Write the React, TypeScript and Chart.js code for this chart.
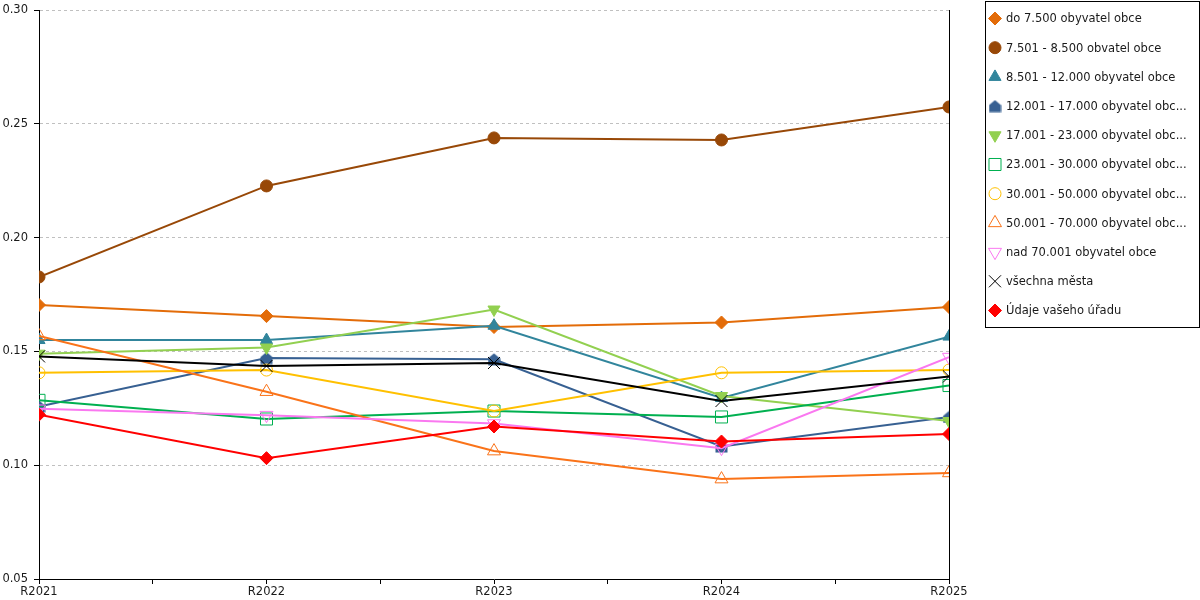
import { Chart, registerables, ChartConfiguration, Plugin } from 'chart.js';
import { drawPoint } from 'chart.js/helpers';
import React, { useEffect, useRef } from 'react';

Chart.register(...registerables);

// osa X a osa Y
const categories = ['R2021', 'R2022', 'R2023', 'R2024', 'R2025'];
const yMin = 0.05;
const yMax = 0.3;
const yStep = 0.05;

// názvy řad (tak jak jsou zobrazeny v legendě)
const seriesNames = [
  'do 7.500 obyvatel obce',
  '7.501 - 8.500 obvatel obce',
  '8.501 - 12.000 obyvatel obce',
  '12.001 - 17.000 obyvatel obc...',
  '17.001 - 23.000 obyvatel obc...',
  '23.001 - 30.000 obyvatel obc...',
  '30.001 - 50.000 obyvatel obc...',
  '50.001 - 70.000 obyvatel obc...',
  'nad 70.001 obyvatel obce',
  'všechna města',
  'Údaje vašeho úřadu',
];

// hodnoty řad
const do7500 = [0.1704, 0.1655, 0.1607, 0.1627, 0.1695];
const from7501 = [0.1827, 0.2227, 0.2438, 0.2429, 0.2574];
const from8501 = [0.155, 0.155, 0.1613, 0.1295, 0.1565];
const from12001 = [0.1258, 0.1471, 0.1465, 0.1082, 0.1212];
const from17001 = [0.149, 0.1517, 0.1684, 0.1304, 0.1194];
const from23001 = [0.1285, 0.1203, 0.1238, 0.1212, 0.135];
const from30001 = [0.1406, 0.1418, 0.1238, 0.1406, 0.1418];
const from50001 = [0.1568, 0.1323, 0.1062, 0.0939, 0.0966];
const over70001 = [0.1248, 0.122, 0.1183, 0.1075, 0.1475];
const allCities = [0.1478, 0.1436, 0.1449, 0.1282, 0.139];
const yourOffice = [0.1222, 0.1031, 0.117, 0.1104, 0.1137];

const seriesValues = [
  do7500, from7501, from8501, from12001, from17001, from23001,
  from30001, from50001, over70001, allCities, yourOffice,
];

const FONT = 'DejaVu Sans';

// marker "domeček" pro řadu 12.001 - 17.000
const makeHouse = (color: string) => {
  const c = document.createElement('canvas');
  c.width = 13;
  c.height = 13;
  const g = c.getContext('2d');
  if (g) {
    g.fillStyle = color;
    g.beginPath();
    g.moveTo(6.5, 0.5);
    g.lineTo(12.5, 5.5);
    g.lineTo(12.5, 12.5);
    g.lineTo(0.5, 12.5);
    g.lineTo(0.5, 5.5);
    g.closePath();
    g.fill();
  }
  return c;
};

type Look = { color: string; style: any; rotation: number; radius: number; hollow: boolean };

const legendBox: Plugin<'line'> = {
  id: 'legendBox',
  afterDraw(chart) {
    const { ctx, chartArea } = chart;
    const left = chartArea.right + 36;
    const top = 1.5;
    const width = chart.width - left - 1.5;
    const height = 326;
    ctx.save();
    ctx.strokeStyle = '#000';
    ctx.lineWidth = 1;
    ctx.strokeRect(Math.round(left) + 0.5, top, Math.round(width), height);
    ctx.font = `11.5px "${FONT}"`;
    ctx.textBaseline = 'middle';
    chart.data.datasets.forEach((ds: any, i) => {
      const x = left + 10;
      const y = top + 17 + i * 29.2;
      ctx.fillStyle = ds.pointBackgroundColor;
      ctx.strokeStyle = ds.pointBorderColor;
      ctx.lineWidth = ds.pointBorderWidth;
      drawPoint(ctx, {
        pointStyle: ds.pointStyle,
        rotation: ds.pointRotation,
        radius: ds.pointRadius,
        borderWidth: ds.pointBorderWidth,
      } as any, x, y);
      ctx.fillStyle = '#1a1a1a';
      ctx.fillText(ds.label, x + 11, y + 1);
    });
    ctx.restore();
  },
};

const App: React.FC = () => {
  const chartRef = useRef<HTMLCanvasElement>(null);
  const chartInstanceRef = useRef<Chart | null>(null);

  useEffect(() => {
    if (!chartRef.current) return;
    const ctx = chartRef.current.getContext('2d');
    if (!ctx) return;

    if (chartInstanceRef.current) {
      chartInstanceRef.current.destroy();
    }

    const looks: Look[] = [
      { color: '#E36C09', style: 'rectRot', rotation: 0, radius: 6.5, hollow: false },
      { color: '#984807', style: 'circle', rotation: 0, radius: 6, hollow: false },
      { color: '#31859C', style: 'triangle', rotation: 0, radius: 7, hollow: false },
      { color: '#376092', style: makeHouse('#376092'), rotation: 0, radius: 6, hollow: false },
      { color: '#92D050', style: 'triangle', rotation: 180, radius: 7, hollow: false },
      { color: '#00B050', style: 'rect', rotation: 0, radius: 8.5, hollow: true },
      { color: '#FFC000', style: 'circle', rotation: 0, radius: 6, hollow: true },
      { color: '#FA7319', style: 'triangle', rotation: 0, radius: 7.5, hollow: true },
      { color: '#FA78F0', style: 'triangle', rotation: 180, radius: 7.5, hollow: true },
      { color: '#000000', style: 'crossRot', rotation: 0, radius: 8.5, hollow: true },
      { color: '#FF0000', style: 'rectRot', rotation: 0, radius: 6.5, hollow: false },
    ];

    const datasets = seriesNames.map((name, i) => {
      const look = looks[i];
      return {
        label: name,
        data: seriesValues[i].map((v, j) => ({ x: j, y: v })),
        borderColor: look.color,
        backgroundColor: look.color,
        borderWidth: 2,
        pointStyle: look.style,
        pointRotation: look.rotation,
        pointRadius: look.radius,
        pointHoverRadius: look.radius,
        pointBorderWidth: 1,
        pointBorderColor: look.color,
        pointBackgroundColor: look.hollow ? 'rgba(0,0,0,0)' : look.color,
        tension: 0,
        order: seriesNames.length - i,
      };
    });

    const config: ChartConfiguration<'line'> = {
      type: 'line',
      data: { datasets: datasets as any },
      options: {
        animation: false,
        responsive: true,
        maintainAspectRatio: false,
        layout: { padding: { top: 10, right: 226, left: 0, bottom: 0 } },
        plugins: {
          legend: { display: false },
          tooltip: { enabled: false },
        },
        scales: {
          x: {
            type: 'linear',
            min: 0,
            max: categories.length - 1,
            afterFit: (s: any) => {
              s.height = 21;
            },
            ticks: {
              stepSize: 0.5,
              autoSkip: false,
              maxRotation: 0,
              padding: 1,
              color: '#1a1a1a',
              font: { family: FONT, size: 11.5 },
              callback: (v: any) => (Number.isInteger(v) ? categories[v] : ''),
            },
            grid: {
              drawOnChartArea: false,
              tickLength: 5,
              tickColor: '#000',
            },
            border: { color: '#000', width: 1 },
          },
          y: {
            type: 'linear',
            min: yMin,
            max: yMax,
            afterFit: (s: any) => {
              s.width = 39;
            },
            ticks: {
              stepSize: yStep,
              padding: 6,
              color: '#1a1a1a',
              font: { family: FONT, size: 11.5, lineHeight: 0.5 },
              callback: (v: any) => Number(v).toFixed(2),
            },
            grid: {
              color: '#c0c0c0',
              tickLength: 5,
              tickColor: '#000',
              tickBorderDash: [],
            },
            border: { color: '#000', width: 1, dash: [3, 3] },
          },
          y2: {
            type: 'linear',
            position: 'right',
            min: yMin,
            max: yMax,
            afterFit: (s: any) => {
              s.width = 25;
            },
            ticks: { display: false },
            grid: { display: false },
            border: { color: '#000', width: 1 },
          },
        },
      },
      plugins: [legendBox],
    };

    chartInstanceRef.current = new Chart(ctx, config);

    return () => {
      if (chartInstanceRef.current) {
        chartInstanceRef.current.destroy();
        chartInstanceRef.current = null;
      }
    };
  }, []);

  return (
    <div style={{ position: 'absolute', left: 0, top: 0, width: 1200, height: 600, background: '#fff' }}>
      <canvas ref={chartRef}></canvas>
    </div>
  );
};

export default App;
